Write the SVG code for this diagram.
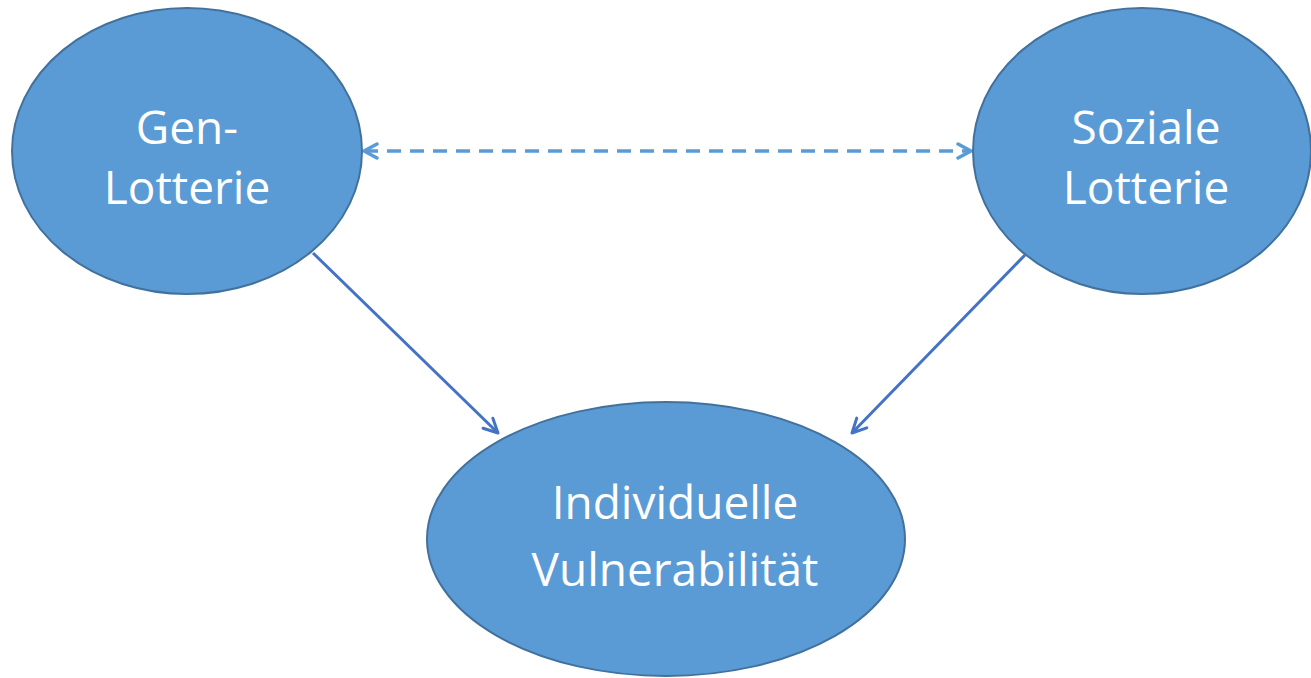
<svg xmlns="http://www.w3.org/2000/svg" width="1311" height="678" viewBox="0 0 1311 678">
<style>
.node{fill:#5b9bd5;stroke:#41719c;stroke-width:2}
.lbl{font-family:"Open Sans","Noto Sans",sans-serif;font-size:46px;fill:#ffffff;text-anchor:middle}
.solid{stroke:#4472c4;stroke-width:3;fill:none}
.dash{stroke:#5b9bd5;stroke-width:3.5;fill:none;stroke-dasharray:14 9}
</style>
<defs>
<marker id="ah" viewBox="0 0 20 20" refX="18" refY="10" markerWidth="20" markerHeight="20" markerUnits="userSpaceOnUse" orient="auto-start-reverse">
<path d="M4,3 L18,10 L4,17" fill="none" stroke="#4472c4" stroke-width="3" stroke-linecap="round" stroke-linejoin="round"/>
</marker>
<marker id="ahd" viewBox="0 0 20 20" refX="18" refY="10" markerWidth="20" markerHeight="20" markerUnits="userSpaceOnUse" orient="auto-start-reverse">
<path d="M5,3 L18,10 L5,17" fill="none" stroke="#5b9bd5" stroke-width="3.5" stroke-linecap="round" stroke-linejoin="round"/>
</marker>
</defs>
<rect width="1311" height="678" fill="#ffffff"/>
<g id="connectors">
<line class="dash" x1="364" y1="151" x2="971" y2="151" marker-start="url(#ahd)" marker-end="url(#ahd)"/>
<line class="solid" x1="313" y1="253" x2="498" y2="433" marker-end="url(#ah)"/>
<line class="solid" x1="1025" y1="255" x2="852" y2="433" marker-end="url(#ah)"/>
</g>
<g id="node-gen">
<ellipse class="node" cx="187" cy="151" rx="175" ry="143"/>
<text class="lbl" x="187" y="144">Gen-</text>
<text class="lbl" x="187" y="204">Lotterie</text>
</g>
<g id="node-sozial">
<ellipse class="node" cx="1142" cy="151" rx="169" ry="143"/>
<text class="lbl" x="1146" y="144">Soziale</text>
<text class="lbl" x="1146" y="204">Lotterie</text>
</g>
<g id="node-vuln">
<ellipse class="node" cx="666" cy="539" rx="239" ry="137"/>
<text class="lbl" x="675" y="519">Individuelle</text>
<text class="lbl" x="675" y="586">Vulnerabilität</text>
</g>
</svg>
